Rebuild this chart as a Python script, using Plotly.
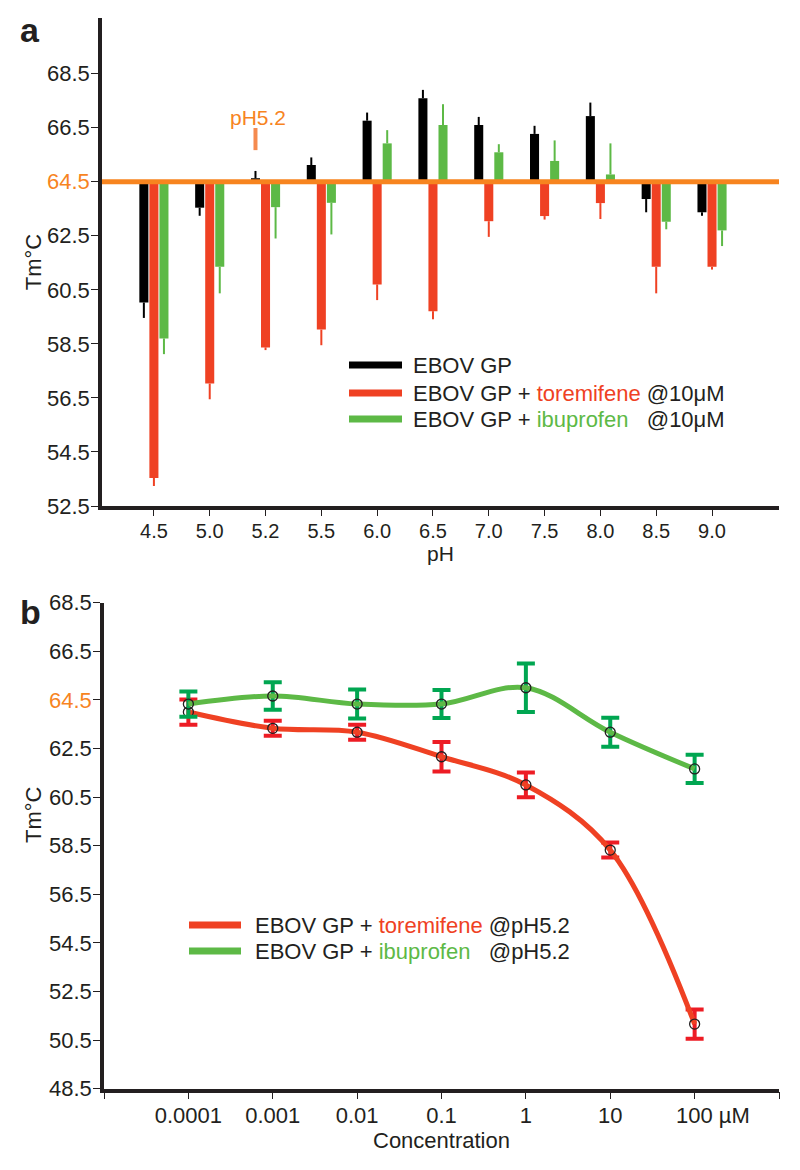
import plotly.graph_objects as go

# ---------------- data: panel a ----------------
ph = ["4.5", "5.0", "5.2", "5.5", "6.0", "6.5", "7.0", "7.5", "8.0", "8.5", "9.0"]
ebov = [60.03, 63.54, 64.63, 65.12, 66.76, 67.59, 66.60, 66.27, 66.93, 63.86, 63.37]
ebov_err = [0.57, 0.30, 0.27, 0.28, 0.30, 0.31, 0.30, 0.30, 0.50, 0.49, 0.13]
torem = [53.54, 57.03, 58.37, 59.03, 60.70, 59.71, 63.04, 63.23, 63.71, 61.35, 61.35]
torem_err = [0.30, 0.58, 0.10, 0.58, 0.58, 0.30, 0.58, 0.13, 0.59, 0.98, 0.10]
ibu = [58.70, 61.35, 63.56, 63.72, 65.92, 66.60, 65.59, 65.27, 64.77, 63.02, 62.70]
ibu_err = [0.58, 0.98, 1.16, 1.17, 0.49, 0.77, 0.30, 0.76, 1.15, 0.28, 0.58]
baseline = 64.5
ticks_a = [52.5, 54.5, 56.5, 58.5, 60.5, 62.5, 64.5, 66.5, 68.5]

# ---------------- data: panel b ----------------
conc = [0.0001, 0.001, 0.01, 0.1, 1, 10, 100]
torem_b = [64.00, 63.33, 63.17, 62.16, 61.00, 58.32, 51.16]
torem_b_err = [0.52, 0.31, 0.31, 0.61, 0.51, 0.31, 0.60]
ibu_b = [64.33, 64.66, 64.33, 64.33, 65.00, 63.17, 61.66]
ibu_b_err = [0.52, 0.57, 0.60, 0.58, 1.00, 0.60, 0.58]
ticks_b = [48.5, 50.5, 52.5, 54.5, 56.5, 58.5, 60.5, 62.5, 64.5, 66.5, 68.5]
conc_ticks = [1e-5, 1e-4, 1e-3, 1e-2, 1e-1, 1, 10, 100, 1000]
conc_labels = ["", "0.0001", "0.001", "0.01", "0.1", "1", "10",
               "\u00a0\u00a0\u00a0\u00a0\u00a0\u00a0100 µM", ""]

# ---------------- style ----------------
OFF = 8                      # default page margin of the html body
W, H = 800 - 2 * OFF, 1170 - 2 * OFF
BLACK = "#000000"
TXT = "#231F20"
RED = "#EF4123"
GREEN = "#5DB946"
ORANGE = "#F7841F"
RED_ERR = "#ED1C24"
GREEN_ERR = "#00A651"
FONT = "Liberation Sans, Arial, sans-serif"


def px_x(x):
    return (x - OFF) / W


def px_y(y):
    return 1 - (y - OFF) / H


def one_sided(vals, errs):
    up = [e if v >= baseline else 0 for v, e in zip(vals, errs)]
    dn = [e if v < baseline else 0 for v, e in zip(vals, errs)]
    return dict(type="data", symmetric=False, array=up, arrayminus=dn,
                width=0, thickness=2)


def tick_text(vals):
    out = []
    for v in vals:
        s = f"{v:.1f}"
        if v == baseline:
            s = f"<span style='color:{ORANGE}'>{s}</span>"
        out.append(s)
    return out


fig = go.Figure()

for name, vals, errs, col in [
    ("EBOV GP", ebov, ebov_err, BLACK),
    ("EBOV GP + toremifene @10μM", torem, torem_err, RED),
    ("EBOV GP + ibuprofen @10μM", ibu, ibu_err, GREEN),
]:
    e = one_sided(vals, errs)
    e["color"] = col
    fig.add_trace(go.Bar(
        x=ph, y=[v - baseline for v in vals], base=baseline, name=name,
        marker=dict(color=col, line=dict(width=0)),
        error_y=e, xaxis="x", yaxis="y", showlegend=False,
    ))

for name, vals, errs, col, ecol in [
    ("EBOV GP + toremifene @pH5.2", torem_b, torem_b_err, RED, RED_ERR),
    ("EBOV GP + ibuprofen @pH5.2", ibu_b, ibu_b_err, GREEN, GREEN_ERR),
]:
    fig.add_trace(go.Scatter(
        x=conc, y=vals, name=name, mode="lines+markers",
        line=dict(color=col, width=5, shape="spline"),
        marker=dict(symbol="circle-open", size=10, color=TXT,
                    line=dict(width=1.3, color=TXT)),
        error_y=dict(type="data", array=errs, color=ecol, thickness=4, width=9),
        xaxis="x2", yaxis="y2", showlegend=False,
    ))

axis_common = dict(showline=True, linecolor=TXT, linewidth=3.5, ticks="outside",
                   tickcolor=TXT, ticklen=7, tickwidth=1.2, showgrid=False,
                   zeroline=False, mirror=False, automargin=False)

fig.update_layout(
    width=W, height=H, margin=dict(l=0, r=0, t=0, b=0, autoexpand=False),
    paper_bgcolor="white", plot_bgcolor="white",
    font=dict(family=FONT, color=TXT, size=22),
    barmode="group", bargap=0.46, bargroupgap=0.1,
    xaxis=dict(axis_common, domain=[px_x(102), px_x(779)], anchor="y",
               type="category", range=[-0.93, 11.2],
               tickfont=dict(size=20), ticklen=6, tickwidth=1, ticklabelstandoff=-2,
               title=dict(text="pH", font=dict(size=21), standoff=0)),
    yaxis=dict(axis_common, domain=[px_y(506), px_y(18)], anchor="x",
               range=[52.5, 70.56], tickvals=ticks_a, ticktext=tick_text(ticks_a),
               tickfont=dict(size=22), ticklabelstandoff=-3,
               title=dict(text="Tm°C", font=dict(size=22), standoff=0)),
    xaxis2=dict(axis_common, domain=[px_x(104), px_x(779)], anchor="y2",
                type="log", range=[-5, 3], tickvals=conc_ticks, ticktext=conc_labels,
                tickfont=dict(size=22), ticklabelstandoff=-3,
                title=dict(text="Concentration", font=dict(size=22), standoff=6)),
    yaxis2=dict(axis_common, domain=[px_y(1088.7), px_y(602.7)], anchor="x2",
                range=[48.5, 68.5], tickvals=ticks_b, ticktext=tick_text(ticks_b),
                tickfont=dict(size=22), ticklabelstandoff=-3),
)

# panel b y-axis title (sits above the axis centre in the reference)
fig.add_annotation(x=px_x(33), y=px_y(815), xref="paper", yref="paper", text="Tm°C",
                   textangle=-90, showarrow=False, xanchor="center", yanchor="middle",
                   font=dict(size=22, color=TXT))

# baseline at pH 5.2 reference Tm
fig.add_shape(type="line", xref="x domain", yref="y", x0=0, x1=1,
              y0=baseline, y1=baseline, line=dict(color=ORANGE, width=5))
fig.add_shape(type="line", xref="x", yref="y", x0=1.82, x1=1.82, y0=65.67, y1=66.49,
              line=dict(color="#F58A4F", width=4))
fig.add_annotation(x=1.87, y=66.86, xref="x", yref="y", text="pH5.2", showarrow=False,
                   font=dict(color=ORANGE, size=21), xanchor="center", yanchor="middle")

# panel labels
fig.add_annotation(x=px_x(18), y=px_y(30), xref="paper", yref="paper", text="<b>a</b>",
                   showarrow=False, font=dict(size=34, color=TXT), xanchor="left",
                   yanchor="middle")
fig.add_annotation(x=px_x(18), y=px_y(612), xref="paper", yref="paper", text="<b>b</b>",
                   showarrow=False, font=dict(size=34, color=TXT), xanchor="left",
                   yanchor="middle")

# legends
LEG = 22
legend_a = [
    (365, BLACK, "EBOV GP"),
    (393, RED, f"EBOV GP + <span style='color:{RED}'>toremifene</span> @10μM"),
    (419, GREEN, f"EBOV GP + <span style='color:{GREEN}'>ibuprofen</span>\u00a0\u00a0\u00a0@10μM"),
]
for y, col, txt in legend_a:
    fig.add_shape(type="line", xref="paper", yref="paper", x0=px_x(349), x1=px_x(402),
                  y0=px_y(y), y1=px_y(y), line=dict(color=col, width=7))
    fig.add_annotation(x=px_x(411), y=px_y(y), xref="paper", yref="paper", text=txt,
                       showarrow=False, xanchor="left", yanchor="middle",
                       font=dict(size=LEG, color=TXT))

legend_b = [
    (925, RED, f"EBOV GP + <span style='color:{RED}'>toremifene</span> @pH5.2"),
    (951, GREEN, f"EBOV GP + <span style='color:{GREEN}'>ibuprofen</span>\u00a0\u00a0\u00a0@pH5.2"),
]
for y, col, txt in legend_b:
    fig.add_shape(type="line", xref="paper", yref="paper", x0=px_x(189), x1=px_x(241),
                  y0=px_y(y), y1=px_y(y), line=dict(color=col, width=7))
    fig.add_annotation(x=px_x(253), y=px_y(y), xref="paper", yref="paper", text=txt,
                       showarrow=False, xanchor="left", yanchor="middle",
                       font=dict(size=LEG, color=TXT))

fig.write_html("out.html")
